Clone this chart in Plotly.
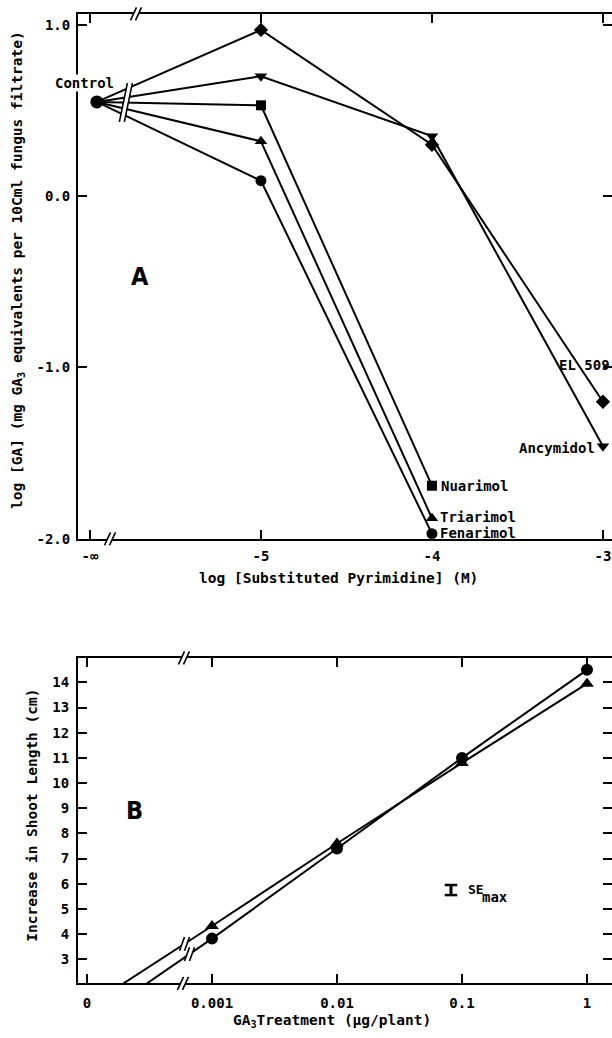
import numpy as np
import plotly.graph_objects as go

W, H = 612, 1038
FONT = "DejaVu Sans Mono"
WEIGHT = "bold"

# ---------------- Panel A data ----------------
A_TICK_POS = [-6, -5, -4, -3]
A_TICK_TEXT = ["-\u221e", "-5", "-4", "-3"]
A_Y_TICKS = [1.0, 0.0, -1.0, -2.0]
A_Y_TEXT = ["1.0", "0.0", "-1.0", "-2.0"]
CONTROL_X = -5.96          # control (log conc = -inf) drawn at the -inf tick
CONTROL_Y = 0.55
X_3PTS = [-5, -4]
X_4PTS = [-5, -4, -3]
FENARIMOL = [0.09, -1.97]
TRIARIMOL = [0.32, -1.88]
NUARIMOL = [0.53, -1.69]
ANCYMIDOL = [0.70, 0.35, -1.46]
EL509 = [0.97, 0.30, -1.20]

# ---------------- Panel B data ----------------
B_TICK_POS = [-4, -3, -2, -1, 0]       # log10 dose; zero dose drawn at -4
B_TICK_TEXT = ["0", "0.001", "0.01", "0.1", "1"]
B_Y_TICKS = list(range(3, 15))
B_CIRCLE = [0.4, 3.82, 7.4, 11.0, 14.5]
B_TRIANGLE = [1.1, 4.32, 7.6, 10.8, 13.95]
SE_MAX_HALF = 0.2

# ---------------- geometry ----------------
A_XR = [-6.07, -2.947]
A_YR = [-2.0, 1.0637]
A_DX = [78 / W, 1.0]
A_DY = [1 - 543 / H, 1 - 14 / H]
B_XR = [-4.072, 0.2]
B_YR = [2.054, 14.986]
B_DX = [78 / W, 1.0]
B_DY = [1 - 990.7 / H, 1 - 662.7 / H]


def to_px(x, y, xr, yr, dx, dy):
    fx = dx[0] + (x - xr[0]) / (xr[1] - xr[0]) * (dx[1] - dx[0])
    fy = dy[0] + (y - yr[0]) / (yr[1] - yr[0]) * (dy[1] - dy[0])
    return fx * W, (1 - fy) * H


fig = go.Figure()

line = dict(color="black", width=2)

# Panel A series
series_A = [
    (FENARIMOL, X_3PTS, "circle", 11),
    (TRIARIMOL, X_3PTS, "triangle-up", 11),
    (NUARIMOL, X_3PTS, "square", 10),
    (ANCYMIDOL, X_4PTS, "triangle-down", 11),
    (EL509, X_4PTS, "diamond", 11),
]
for ys, xs, sym, sz in series_A:
    fig.add_trace(go.Scatter(x=[CONTROL_X] + xs, y=[CONTROL_Y] + ys, mode="lines",
                             line=line, xaxis="x", yaxis="y", showlegend=False, hoverinfo="skip"))
    fig.add_trace(go.Scatter(x=xs, y=ys, mode="markers",
                             marker=dict(symbol=sym, size=sz, color="black"),
                             xaxis="x", yaxis="y", showlegend=False, cliponaxis=False))
fig.add_trace(go.Scatter(x=[CONTROL_X], y=[CONTROL_Y], mode="markers",
                         marker=dict(symbol="circle", size=13, color="black"),
                         xaxis="x", yaxis="y", showlegend=False, cliponaxis=False))
# invisible traces for right-side tick axes
fig.add_trace(go.Scatter(x=[None], y=[None], xaxis="x", yaxis="y3", showlegend=False))
fig.add_trace(go.Scatter(x=[None], y=[None], xaxis="x2", yaxis="y4", showlegend=False))

# Panel B series
for ys, sym, sz in [(B_CIRCLE, "circle", 12), (B_TRIANGLE, "triangle-up", 12)]:
    fig.add_trace(go.Scatter(x=B_TICK_POS, y=ys, mode="lines+markers", line=line,
                             marker=dict(symbol=sym, size=sz, color="black"),
                             xaxis="x2", yaxis="y2", showlegend=False, cliponaxis=True))

shapes = []


def brk(cx, cy, h, s, gap, lw=1.6):
    """axis/line break glyph '//' centred at pixel (cx, cy)."""
    def P(x, y):
        return f"{x / W:.5f},{1 - y / H:.5f}"
    x1b, x1t = cx - gap / 2 - s / 2, cx - gap / 2 + s / 2
    x2b, x2t = x1b + gap, x1t + gap
    yb, yt = cy + h / 2, cy - h / 2
    shapes.append(dict(type="path", xref="paper", yref="paper",
                       path=f"M{P(x1b, yb)} L{P(x1t, yt)} L{P(x2t, yt)} L{P(x2b, yb)} Z",
                       fillcolor="white", line=dict(width=0), layer="above"))
    for xb, xt in [(x1b, x1t), (x2b, x2t)]:
        shapes.append(dict(type="line", xref="paper", yref="paper",
                           x0=xb / W, y0=1 - yb / H, x1=xt / W, y1=1 - yt / H,
                           line=dict(color="black", width=lw), layer="above"))


# axis breaks panel A
brk(136, 14, 13, 6, 5)
brk(110, 543, 13, 6, 5)
# break across the fan of control lines (panel A)
bx = -5.79
ys_at = []
for ys, xs, *_ in series_A:
    ys_at.append(np.interp(bx, [CONTROL_X] + xs, [CONTROL_Y] + ys))
cx_px, top_px = to_px(bx, max(ys_at), A_XR, A_YR, A_DX, A_DY)
_, bot_px = to_px(bx, min(ys_at), A_XR, A_YR, A_DX, A_DY)
brk(cx_px, (top_px + bot_px) / 2, (bot_px - top_px) + 12, 8, 5)

# axis breaks panel B
brk(184, 663, 13, 6, 5)
brk(183, 991, 13, 6, 5)
for ys, bxx in [(B_TRIANGLE, -3.22), (B_CIRCLE, -3.18)]:
    yb = np.interp(bxx, B_TICK_POS, ys)
    px, py = to_px(bxx, yb, B_XR, B_YR, B_DX, B_DY)
    brk(px, py, 14, 5, 5)

# SE max bar
se_x, se_y, cap = -1.088, 5.75, 0.05
shapes.append(dict(type="line", xref="x2", yref="y2", x0=se_x, x1=se_x,
                   y0=se_y - SE_MAX_HALF, y1=se_y + SE_MAX_HALF, line=dict(color="black", width=3)))
for yy in (se_y - SE_MAX_HALF, se_y + SE_MAX_HALF):
    shapes.append(dict(type="line", xref="x2", yref="y2", x0=se_x - cap, x1=se_x + cap,
                       y0=yy, y1=yy, line=dict(color="black", width=2.5)))

fig.update_layout(shapes=shapes)


def ann(text, x, y, xref="paper", yref="paper", size=14, **kw):
    d = dict(text=text, x=x, y=y, xref=xref, yref=yref, showarrow=False,
             xanchor="center", yanchor="middle",
             font=dict(family=FONT, size=size, color="black", weight=WEIGHT))
    d.update(kw)
    fig.add_annotation(**d)


def pann(text, px, py, **kw):
    ann(text, px / W, 1 - py / H, **kw)


BOLDF = dict(family="DejaVu Sans Condensed", size=25, color="black", weight="bold")

# Panel A labels
pann("Control", 84, 84, bgcolor="white", borderpad=0)
ann("Nuarimol", -4, NUARIMOL[-1], "x", "y", xanchor="left", xshift=7)
ann("Triarimol", -4, TRIARIMOL[-1], "x", "y", xanchor="left", xshift=6, yshift=1)
ann("Fenarimol", -4, FENARIMOL[-1], "x", "y", xanchor="left", xshift=6, yshift=1)
ann("Ancymidol", -3, ANCYMIDOL[-1], "x", "y", xanchor="right", xshift=-6, yshift=-2)
pann("EL 509", 557, 368, xanchor="left")
pann("A", 140, 279, font=BOLDF)
pann("log [GA] (mg GA<sub>3</sub> equivalents per 10Cml fungus filtrate)", 18, 272,
     textangle=-90, size=14.5)
pann("log [Substituted Pyrimidine] (M)", 338, 582, size=14.5)

# Panel B labels
pann("B", 134, 817, font=BOLDF)
pann("Increase in Shoot Length (cm)", 32, 822, textangle=-90, size=14.5)
pann("GA<sub>3</sub>Treatment (\u00b5g/plant)", 332, 1029, size=14.5)
pann("SE", 466, 896, xanchor="left", size=13)
pann("max", 480, 904, xanchor="left", size=14)

tickfont = dict(family=FONT, size=14, color="black", weight=WEIGHT)
common = dict(showgrid=False, zeroline=False, ticks="inside", ticklen=9, tickwidth=2,
              tickcolor="black", linecolor="black", linewidth=2, tickfont=tickfont)

fig.update_layout(
    width=W, height=H, margin=dict(l=0, r=0, t=0, b=0),
    paper_bgcolor="white", plot_bgcolor="white",
    xaxis=dict(domain=A_DX, range=A_XR, anchor="y", tickmode="array", tickvals=A_TICK_POS,
               ticktext=A_TICK_TEXT, showline=True, mirror="ticks", ticklabelstandoff=3, **common),
    yaxis=dict(domain=A_DY, range=A_YR, anchor="x", tickmode="array", tickvals=A_Y_TICKS,
               ticktext=A_Y_TEXT, showline=True, ticklabelstandoff=3, **common),
    yaxis3=dict(domain=A_DY, range=A_YR, overlaying="y", side="right", anchor="x",
                tickmode="array", tickvals=A_Y_TICKS, showticklabels=False, showline=False, **common),
    xaxis2=dict(domain=B_DX, range=B_XR, anchor="y2", tickmode="array", tickvals=B_TICK_POS,
                ticktext=B_TICK_TEXT, showline=True, mirror="ticks", ticklabelstandoff=6, **common),
    yaxis2=dict(domain=B_DY, range=B_YR, anchor="x2", tickmode="array", tickvals=B_Y_TICKS,
                showline=True, ticklabelstandoff=4, **common),
    yaxis4=dict(domain=B_DY, range=B_YR, overlaying="y2", side="right", anchor="x2",
                tickmode="array", tickvals=B_Y_TICKS, showticklabels=False, showline=False, **common),
)

fig.write_html("out.html", config={"displayModeBar": False},
               post_script="document.body.style.margin='0px';")
